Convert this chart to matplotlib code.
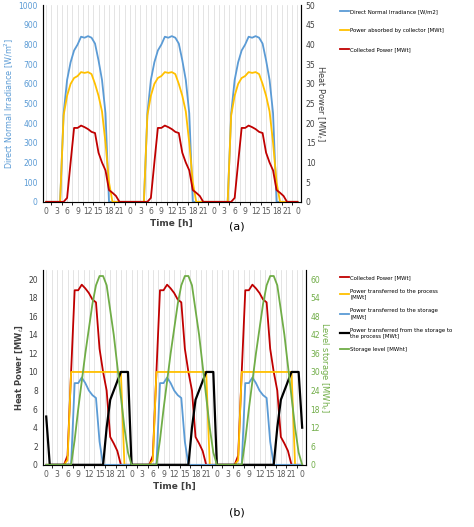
import matplotlib.pyplot as plt
import numpy as np

hours = np.arange(0, 73)
dni_day = [0,0,0,0,0,450,620,710,770,800,840,835,843,835,805,720,620,450,0,0,0,0,0,0]
absorbed_day = [0,0,0,0,0,22,27,30,31.5,32,33,32.8,33,32.5,30,27,23,15,5,0,0,0,0,0]
collected_day = [0,0,0,0,0,0,1,10,18.8,18.8,19.4,19,18.5,17.8,17.5,12.5,10,8,3,2.3,1.5,0,0,0]
process_day = [0,0,0,0,0,0,0.5,10,10,10,10,10,10,10,10,10,10,10,10,10,10,10,0,0]
storage_day = [0,0,0,0,0,0,0,0,8.8,8.8,9.4,8.8,8,7.5,7.2,2.5,0,0,0,0,0,0,0,0]
fromstor_day = [0,0,0,0,0,0,0,0,0,0,0,0,0,0,0,0,0,4,7,8,9,10,10,10]
level_day = [0,0,0,0,0,0,0,0,8,18,27,36,44,52,58,61,61,58,50,42,32,22,12,4]

def three(d, end):
    return np.array(d*3 + [end], dtype=float)

dni = three(dni_day, 0)
absorbed = three(absorbed_day, 0)
collected = three(collected_day, 0)
process = three(process_day, 0)
storage = three(storage_day, 0)
fromstor = three(fromstor_day, 4)
fromstor[0] = 5.2
level = three(level_day, 0)

xticks = np.arange(0, 73, 3)
xlabels = [str(h % 24) for h in xticks]

blue, yellow, red, black, green = '#5b9bd5', '#ffc000', '#c00000', '#000000', '#70ad47'
gray = '#595959'
fig = plt.figure(figsize=(4.74, 5.27), dpi=100)

def style(ax):
    ax.set_xlim(-1, 73)
    ax.set_xticks(xticks)
    ax.set_xticklabels(xlabels, fontsize=5.5, color=gray)
    ax.set_xticks(np.arange(0, 73, 1.5), minor=True)
    ax.grid(True, which='both', axis='x', color='#d9d9d9', lw=0.5)
    ax.tick_params(length=0, labelsize=5.5)
    ax.spines['top'].set_visible(False)
    ax.spines['left'].set_color(gray)
    ax.spines['right'].set_color(gray)
    ax.spines['bottom'].set_color('#bfbfbf')
    ax.set_xlabel('Time [h]', fontsize=6.5, fontweight='bold', color='#404040', labelpad=2)

# (a)
ax1 = fig.add_axes([0.09, 0.617, 0.545, 0.373])
style(ax1)
ax1.set_ylim(0, 1000)
ax1.set_yticks(np.arange(0, 1001, 100))
ax1.tick_params(axis='y', colors=blue)
ax1.set_ylabel('Direct Normal Irradiance [W/m$^2$]', fontsize=5.8, color=blue, labelpad=2)
l1, = ax1.plot(hours, dni, color=blue, lw=1.3, label='Direct Normal Irradiance [W/m2]')
ax1b = ax1.twinx()
ax1b.set_ylim(0, 50)
ax1b.set_yticks(np.arange(0, 51, 5))
ax1b.tick_params(length=0, labelsize=5.5, colors='#404040')
ax1b.spines['top'].set_visible(False)
ax1b.set_ylabel('Heat Power [MW$_t$]', fontsize=6, color='#404040', rotation=270, labelpad=8)
l2, = ax1b.plot(hours, absorbed, color=yellow, lw=1.3, label='Power absorbed by collector [MWt]')
l3, = ax1b.plot(hours, collected, color=red, lw=1.3, label='Collected Power [MWt]')
fig.legend(handles=[l1, l2, l3], loc='upper left', bbox_to_anchor=(0.715, 0.985),
           fontsize=3.9, frameon=False, labelspacing=2.6, handlelength=1.6, handletextpad=0.3,
           borderaxespad=0, borderpad=0.2)
fig.text(0.5, 0.565, '(a)', ha='center', fontsize=8)

# (b)
ax2 = fig.add_axes([0.09, 0.118, 0.555, 0.37])
style(ax2)
ax2.set_ylim(0, 21)
ax2.set_yticks(np.arange(0, 21, 2))
ax2.tick_params(axis='y', colors='#404040')
ax2.set_ylabel('Heat Power [MW$_t$]', fontsize=6, fontweight='bold', color='#404040', labelpad=2)
m1, = ax2.plot(hours, collected, color=red, lw=1.3, label='Collected Power [MWt]')
m2, = ax2.plot(hours, process, color=yellow, lw=1.3, label='Power transferred to the process\n[MWt]')
m3, = ax2.plot(hours, storage, color=blue, lw=1.3, label='Power transferred to the storage\n[MWt]')
m4, = ax2.plot(hours, fromstor, color=black, lw=1.6, label='Power transferred from the storage to\nthe process [MWt]')
ax2b = ax2.twinx()
ax2b.set_ylim(0, 63)
ax2b.set_yticks(np.arange(0, 61, 6))
ax2b.tick_params(length=0, labelsize=5.5, colors=green)
ax2b.spines['top'].set_visible(False)
ax2b.set_ylabel('Level storage [MWh$_t$]', fontsize=6, color=green, rotation=270, labelpad=8)
m5, = ax2b.plot(hours, level, color=green, lw=1.3, label='Storage level [MWht]')
fig.legend(handles=[m1, m2, m3, m4, m5], loc='upper left', bbox_to_anchor=(0.715, 0.48),
           fontsize=3.9, frameon=False, labelspacing=1.6, handlelength=1.6, handletextpad=0.3,
           borderaxespad=0, borderpad=0.2)
fig.text(0.5, 0.022, '(b)', ha='center', fontsize=8)

fig.savefig('out.png', dpi=100)
